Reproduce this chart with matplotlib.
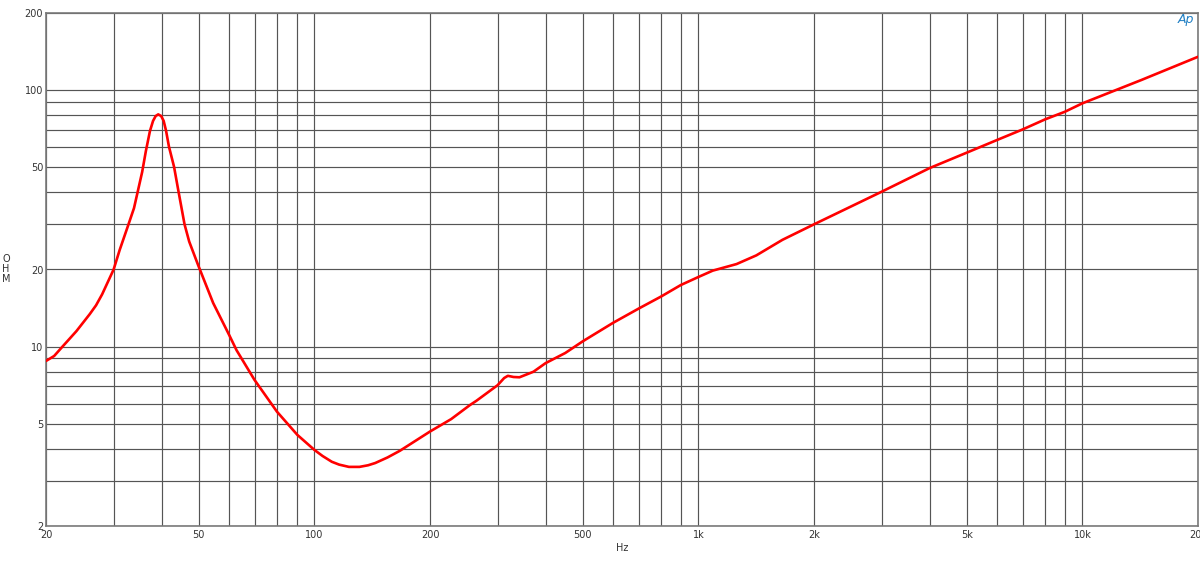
import matplotlib
matplotlib.use("Agg")
import matplotlib.pyplot as plt
from matplotlib.ticker import FixedLocator, NullFormatter, FixedFormatter

# Impedance curve (frequency in Hz, impedance in ohm)
freq = [20, 21, 22, 24, 26, 27, 28, 30, 31.1, 32.8, 33.9, 34.7, 35.6, 36.4, 37.3, 38.0,
        38.6, 39.2, 39.9, 40.5, 41.1, 41.8, 43.1, 44.2, 45.9, 47.2, 49.8, 54.5, 60,
        62.7, 69.8, 79.9, 90.3, 100, 105, 111, 116, 123, 131, 138, 144, 155, 167,
        200, 227, 254, 264, 300, 312, 319, 330, 342, 372, 400, 450, 500, 600, 700,
        800, 900, 1000, 1090, 1257, 1415, 1655, 2000, 3000, 4000, 5000, 6000, 7000,
        8000, 9000, 10000, 14240, 20000]
ohm = [8.8, 9.2, 9.95, 11.5, 13.4, 14.5, 16.0, 20.0, 23.8, 30.0, 34.7, 40.5, 48.0, 57.9,
       69.3, 75.9, 79.3, 80.5, 79.3, 75.9, 69.3, 60.3, 50.3, 40.8, 30.0, 25.7, 20.8,
       14.8, 11.1, 9.69, 7.43, 5.58, 4.53, 3.96, 3.75, 3.56, 3.47, 3.40, 3.40, 3.45,
       3.52, 3.70, 3.93, 4.67, 5.22, 5.92, 6.15, 7.08, 7.55, 7.70, 7.62, 7.60, 7.99,
       8.63, 9.45, 10.5, 12.4, 14.1, 15.7, 17.4, 18.7, 19.8, 21.0, 22.7, 26.1, 30.0,
       40.2, 49.7, 57.1, 64.0, 70.4, 77.0, 82.4, 88.9, 109.6, 135.0]

x_major = [20, 50, 100, 200, 500, 1000, 2000, 5000, 10000, 20000]
x_labels = ["20", "50", "100", "200", "500", "1k", "2k", "5k", "10k", "20k"]
x_grid = [20, 30, 40, 50, 60, 70, 80, 90, 100, 200, 300, 400, 500, 600, 700, 800, 900,
          1000, 2000, 3000, 4000, 5000, 6000, 7000, 8000, 9000, 10000, 20000]
y_major = [2, 5, 10, 20, 50, 100, 200]
y_labels = ["2", "5", "10", "20", "50", "100", "200"]
y_grid = [2, 3, 4, 5, 6, 7, 8, 9, 10, 20, 30, 40, 50, 60, 70, 80, 90, 100, 200]

fig = plt.figure(figsize=(12, 5.67), dpi=100)
ax = fig.add_axes([46/1200, 1 - 526/567, 1152/1200, 513/567])
ax.set_xscale("log")
ax.set_yscale("log")
ax.set_xlim(20, 20000)
ax.set_ylim(2, 200)

for g in x_grid:
    ax.axvline(g, color="#555555", lw=0.85, zorder=1)
for g in y_grid:
    ax.axhline(g, color="#555555", lw=0.85, zorder=1)

ax.plot(freq, ohm, color="#ff0000", lw=1.9, zorder=3,
        solid_joinstyle="round", solid_capstyle="round")

ax.xaxis.set_major_locator(FixedLocator(x_major))
ax.xaxis.set_major_formatter(FixedFormatter(x_labels))
ax.xaxis.set_minor_locator(FixedLocator([]))
ax.xaxis.set_minor_formatter(NullFormatter())
ax.yaxis.set_major_locator(FixedLocator(y_major))
ax.yaxis.set_major_formatter(FixedFormatter(y_labels))
ax.yaxis.set_minor_locator(FixedLocator([]))
ax.yaxis.set_minor_formatter(NullFormatter())
ax.tick_params(axis="both", length=0, labelsize=7, labelcolor="#333333")
ax.tick_params(axis="x", pad=3)
ax.tick_params(axis="y", pad=2)

for s in ax.spines.values():
    s.set_color("#7a7a7a")
    s.set_linewidth(1.2)

fig.text(622/1200, 1 - 548/567, "Hz", fontsize=7, color="#333333", ha="center", va="center")
fig.text(6/1200, 1 - 269/567, "O\nH\nM", fontsize=7, color="#333333", ha="center",
         va="center", linespacing=1.0)
fig.text(1186/1200, 1 - 20/567, "Ap", fontsize=9, color="#1f7fc4", ha="center",
         va="center", style="italic")

fig.savefig("out.png", dpi=100)
